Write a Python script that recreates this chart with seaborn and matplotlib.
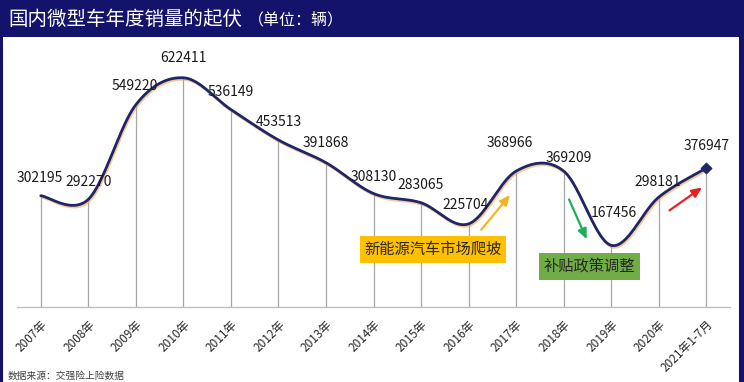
import numpy as np
import pandas as pd
import seaborn as sns
import matplotlib
matplotlib.use("Agg")
import matplotlib.pyplot as plt
import matplotlib.patheffects as pe

# ---------------- data ----------------
years = ["2007年", "2008年", "2009年", "2010年", "2011年", "2012年", "2013年",
         "2014年", "2015年", "2016年", "2017年", "2018年", "2019年", "2020年",
         "2021年1-7月"]
sales = [302195, 292270, 549220, 622411, 536149, 453513, 391868,
         308130, 283065, 225704, 368966, 369209, 167456, 298181, 376947]

title_main = "国内微型车年度销量的起伏"
title_unit = "（单位：辆）"
source_text = "数据来源：交强险上险数据"
note_up = "新能源汽车市场爬坡"
note_down = "补贴政策调整"

# label offsets in pixels (dx, dy) – layout only
label_offsets = [(-1, 18), (0, 17), (-1, 19), (0, 20), (0, 18), (0, 18), (0, 20),
                 (0, 17), (0, 18), (-3, 19), (-6, 28), (5, 13), (3, 32), (-1, 15), (0, 22)]

NAVY = "#13136b"
LINE = "#1f2668"

sns.set_theme(style="white")
plt.rcParams["font.family"] = ["Noto Sans CJK SC", "DejaVu Sans"]

df = pd.DataFrame({"x": np.arange(len(years)), "sales": sales, "year": years})

# Smoothed (Excel-like Bezier) curve through the data points
def smooth_curve(x, y, n=40):
    x = np.asarray(x, float); y = np.asarray(y, float)
    px = np.concatenate([[x[0]], x, [x[-1]]])
    py = np.concatenate([[y[0]], y, [y[-1]]])
    xs, ys = [], []
    t = np.linspace(0, 1, n)
    for i in range(len(x) - 1):
        p0 = np.array([px[i + 1], py[i + 1]])
        p3 = np.array([px[i + 2], py[i + 2]])
        c1 = p0 + (np.array([px[i + 2], py[i + 2]]) - np.array([px[i], py[i]])) / 6
        c2 = p3 - (np.array([px[i + 3], py[i + 3]]) - np.array([px[i + 1], py[i + 1]])) / 6
        b = ((1 - t) ** 3)[:, None] * p0 + (3 * (1 - t) ** 2 * t)[:, None] * c1 \
            + (3 * (1 - t) * t ** 2)[:, None] * c2 + (t ** 3)[:, None] * p3
        xs.append(b[:, 0]); ys.append(b[:, 1])
    return np.concatenate(xs), np.concatenate(ys)

sx, sy = smooth_curve(df["x"], df["sales"])
curve = pd.DataFrame({"x": sx, "y": sy})

fig = plt.figure(figsize=(7.44, 3.82), dpi=100)
fig.patch.set_facecolor(NAVY)
W, H = 744.0, 382.0
bg = fig.add_axes([3 / W, 0, (739 - 3) / W, (H - 37) / H])
bg.set_facecolor("white")
bg.set_xticks([]); bg.set_yticks([])
for s in bg.spines.values():
    s.set_visible(False)
bg.set_zorder(0)

ax = fig.add_axes([17 / W, (H - 307) / H, (730 - 17) / W, (307 - 40) / H])
ax.set_zorder(2)
ax.set_facecolor("none")

# drop lines
ax.vlines(df["x"], 0, df["sales"], color="#a6a6a6", lw=0.9, zorder=1)

# smooth line with orange shadow
sns.lineplot(data=curve, x="x", y="y", ax=ax, color=LINE, lw=2.0, zorder=3,
             path_effects=[pe.SimpleLineShadow(offset=(0.8, -1.3), shadow_color="#f2a550",
                                               alpha=0.6, linewidth=1.8),
                           pe.Normal()])
# last point marker
ax.scatter(df["x"].iloc[-1:], df["sales"].iloc[-1:], marker="D", s=28,
           color=LINE, zorder=4)

# value labels
for (xi, yi), (dx, dy) in zip(zip(df["x"], df["sales"]), label_offsets):
    ax.annotate(f"{yi}", (xi, yi), xytext=(dx, dy), textcoords="offset pixels",
                ha="center", va="center", fontsize=10, color="#1a1a1a", zorder=5)

ax.set_xlim(-0.5, len(years) - 0.5)
ax.set_ylim(0, 725000)
ax.set_yticks([])
ax.set_xticks(df["x"])
ax.set_xticklabels(years, rotation=45, ha="right", rotation_mode="anchor",
                   fontsize=8.5, color="#262626")
ax.set_xticks(np.arange(-0.5, len(years), 1), minor=True)
ax.tick_params(axis="x", which="major", length=0, pad=8)
ax.tick_params(axis="x", which="minor", length=3, direction="in", color="#bfbfbf", width=0.8)
for s in ["top", "left", "right"]:
    ax.spines[s].set_visible(False)
ax.spines["bottom"].set_color("#bfbfbf")
ax.spines["bottom"].set_linewidth(1.0)
ax.set_xlabel(""); ax.set_ylabel("")

# annotation boxes
ax.text(8.25, 156000, note_up, ha="center", va="center", fontsize=11, color="#262626",
        bbox=dict(boxstyle="square,pad=0.3", facecolor="#ffc000", edgecolor="none"), zorder=6)
ax.text(11.54, 110000, note_down, ha="center", va="center", fontsize=11, color="#262626",
        bbox=dict(boxstyle="square,pad=0.3", facecolor="#70ad47", edgecolor="none"), zorder=6)

# arrows
arrow_kw = dict(arrowstyle="-|>,head_length=0.5,head_width=0.22", lw=1.6)
ax.annotate("", xy=(9.91, 310000), xytext=(9.23, 204000),
            arrowprops=dict(color="#f5b51f", **arrow_kw))
ax.annotate("", xy=(11.51, 177000), xytext=(11.09, 299000),
            arrowprops=dict(color="#1fae5a", **arrow_kw))
ax.annotate("", xy=(13.96, 329000), xytext=(13.18, 258000),
            arrowprops=dict(color="#e52222", **arrow_kw))

# title + source
fig.text(8 / W, 1 - 19 / H, title_main, color="white", fontsize=14, va="center", ha="left")
fig.text(248 / W, 1 - 20 / H, title_unit, color="white", fontsize=11.5, va="center", ha="left")
fig.text(8 / W, 1 - 376 / H, source_text, color="#404040", fontsize=7, va="center", ha="left")

fig.savefig("out.png", dpi=100, facecolor=fig.get_facecolor())
